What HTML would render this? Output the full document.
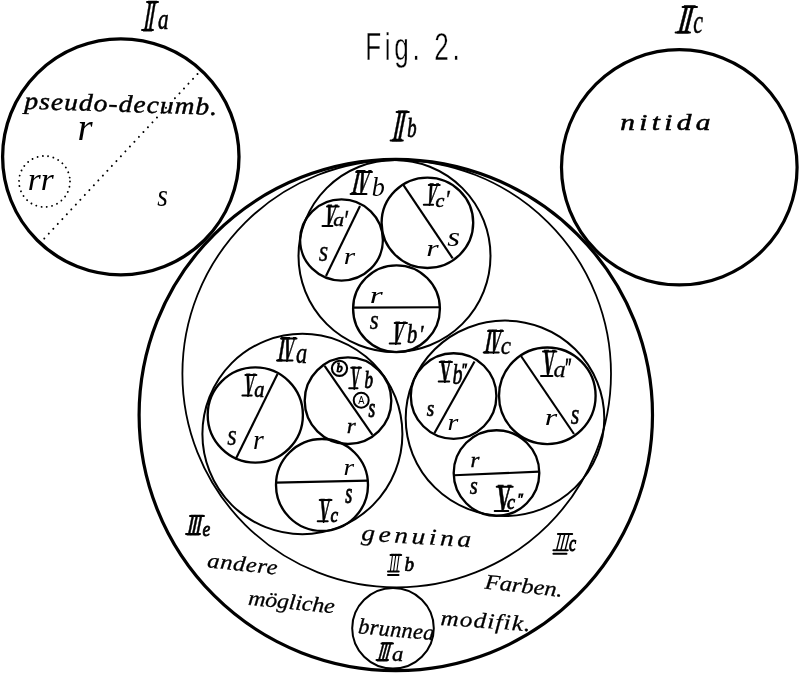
<!DOCTYPE html>
<html><head><meta charset="utf-8"><title>Fig. 2</title>
<style>
html,body{margin:0;padding:0;background:#fff;}
svg{display:block;}
text{fill:#000;}
.s{font-family:"Liberation Serif",serif;font-style:italic;}
.r{font-family:"Liberation Serif",serif;font-weight:bold;}
.rl{font-family:"Liberation Serif",serif;}
.ri{font-family:"Liberation Serif",serif;font-style:italic;}
.h{font-family:"Liberation Sans",sans-serif;}
</style></head><body>
<svg style="will-change:transform" width="800" height="673" viewBox="0 0 800 673">
<rect width="800" height="673" fill="#fff"/>
<g fill="none" stroke="#000">
<ellipse cx="120.8" cy="156.8" rx="118.2" ry="118" stroke-width="3.3"/>
<ellipse cx="679.3" cy="167.3" rx="117.8" ry="117.6" stroke-width="3.2"/>
<ellipse cx="396.7" cy="373.7" rx="214.3" ry="213.7" stroke-width="1.8"/>
<ellipse cx="393" cy="628.3" rx="40.8" ry="40.3" stroke-width="2.0"/>
<ellipse cx="394.5" cy="256" rx="96" ry="96" stroke-width="2.0"/>
<ellipse cx="302.4" cy="434" rx="100" ry="100.2" stroke-width="2.0"/>
<ellipse cx="505" cy="418.3" rx="99.3" ry="97.7" stroke-width="2.0"/>
<ellipse cx="341.5" cy="240" rx="41.4" ry="40.6" stroke-width="2.35"/>
<ellipse cx="396.5" cy="308.7" rx="43.4" ry="43.4" stroke-width="2.35"/>
<ellipse cx="427.4" cy="222.8" rx="45.8" ry="45.2" stroke-width="2.35"/>
<ellipse cx="255.3" cy="415" rx="47.6" ry="47.6" stroke-width="2.35"/>
<ellipse cx="348" cy="400.7" rx="43.3" ry="43.3" stroke-width="2.35"/>
<ellipse cx="322" cy="485" rx="46" ry="46" stroke-width="2.35"/>
<ellipse cx="453.6" cy="396" rx="42.8" ry="42.8" stroke-width="2.35"/>
<ellipse cx="547.3" cy="395.8" rx="48.3" ry="48.3" stroke-width="2.35"/>
<ellipse cx="496.5" cy="473" rx="42.8" ry="42.8" stroke-width="2.35"/>
<line x1="360" y1="206" x2="326" y2="276" stroke-width="2.15"/>
<line x1="353" y1="307.6" x2="440" y2="307.2" stroke-width="2.15"/>
<line x1="402.8" y1="184.2" x2="452.7" y2="258.4" stroke-width="2.15"/>
<line x1="277.5" y1="374" x2="235.5" y2="459.5" stroke-width="2.15"/>
<line x1="324.6" y1="365.8" x2="372.4" y2="434.8" stroke-width="2.15"/>
<line x1="276" y1="482.6" x2="368" y2="480.6" stroke-width="2.15"/>
<line x1="474.5" y1="361.5" x2="434.5" y2="433" stroke-width="2.15"/>
<line x1="521" y1="356" x2="574" y2="434" stroke-width="2.15"/>
<line x1="454" y1="475.3" x2="539.3" y2="471.6" stroke-width="2.15"/>
<circle cx="44.5" cy="181.5" r="25.5" stroke-width="1.9" stroke-dasharray="0.01 5.34" stroke-linecap="round"/>
<line x1="197.5" y1="74" x2="41" y2="242" stroke-width="2" stroke-dasharray="0.01 6.6" stroke-linecap="round"/>
<circle cx="339.5" cy="368.3" r="7.6" stroke-width="2.1"/>
<circle cx="361.2" cy="400.2" r="7.5" stroke-width="2.0"/>
<ellipse cx="395.8" cy="415" rx="256.7" ry="255.6" stroke-width="3.2"/>
<path d="M388 574.9H398.5M553.4 553.8H566.5" stroke-width="2" stroke-linecap="round"/>
</g>
<g>
<text class="h" font-size="100" stroke="#fff" stroke-width="0.35" vector-effect="non-scaling-stroke" letter-spacing="14" transform="matrix(0.2614,0,0,0.3872,365.21,60.47)">Fig. 2.</text>
<text class="s" font-size="100" transform="matrix(0.3889,0,0,0.3750,77.44,140.00)">r</text>
<text class="s" font-size="100" transform="matrix(0.3337,0,0,0.3229,27.67,189.50)">rr</text>
<text class="s" font-size="100" transform="matrix(0.2714,0,0,0.3229,157.23,205.68)">s</text>
<text class="s" font-size="100" stroke="#000" stroke-width="0.28" vector-effect="non-scaling-stroke" transform="matrix(0.2429,0,0,0.2917,318.76,260.71)">s</text>
<text class="s" font-size="100" transform="matrix(0.2917,0,0,0.2292,343.83,263.50)">r</text>
<text class="s" font-size="100" transform="matrix(0.3286,0,0,0.2812,447.17,245.72)">s</text>
<text class="s" font-size="100" transform="matrix(0.3194,0,0,0.2292,426.22,256.00)">r</text>
<text class="s" font-size="100" transform="matrix(0.3333,0,0,0.2396,369.67,302.50)">r</text>
<text class="s" font-size="100" stroke="#000" stroke-width="0.39" vector-effect="non-scaling-stroke" transform="matrix(0.2286,0,0,0.2708,369.77,328.73)">s</text>
<text class="s" font-size="100" stroke="#000" stroke-width="0.28" vector-effect="non-scaling-stroke" transform="matrix(0.2429,0,0,0.2917,227.26,444.71)">s</text>
<text class="s" font-size="100" transform="matrix(0.2778,0,0,0.2708,252.89,449.00)">r</text>
<text class="s" font-size="100" stroke="#000" stroke-width="0.81" vector-effect="non-scaling-stroke" transform="matrix(0.1714,0,0,0.2667,368.53,416.73)">s</text>
<text class="s" font-size="100" stroke="#000" stroke-width="0.37" vector-effect="non-scaling-stroke" transform="matrix(0.2306,0,0,0.2188,346.78,432.70)">r</text>
<text class="s" font-size="100" transform="matrix(0.2722,0,0,0.2354,343.61,475.00)">r</text>
<text class="s" font-size="100" stroke="#000" stroke-width="0.75" vector-effect="non-scaling-stroke" transform="matrix(0.1800,0,0,0.2979,345.32,503.20)">s</text>
<text class="s" font-size="100" stroke="#000" stroke-width="0.66" vector-effect="non-scaling-stroke" transform="matrix(0.1914,0,0,0.2292,426.81,415.77)">s</text>
<text class="s" font-size="100" transform="matrix(0.2778,0,0,0.2354,447.59,430.00)">r</text>
<text class="s" font-size="100" transform="matrix(0.3194,0,0,0.2354,544.72,425.00)">r</text>
<text class="s" font-size="100" stroke="#000" stroke-width="0.45" vector-effect="non-scaling-stroke" transform="matrix(0.2200,0,0,0.3021,570.78,424.20)">s</text>
<text class="s" font-size="100" stroke="#000" stroke-width="0.39" vector-effect="non-scaling-stroke" transform="matrix(0.2278,0,0,0.2188,470.59,467.00)">r</text>
<text class="s" font-size="100" stroke="#000" stroke-width="0.56" vector-effect="non-scaling-stroke" transform="matrix(0.2057,0,0,0.2500,469.79,494.45)">s</text>
<text class="s" font-size="100" stroke="#000" stroke-width="0.52" vector-effect="non-scaling-stroke" transform="matrix(0.2111,0,0,0.2917,158.08,28.71)">a</text>
<text class="s" font-size="100" stroke="#000" stroke-width="0.45" vector-effect="non-scaling-stroke" transform="matrix(0.2195,0,0,0.3333,693.34,32.67)">c</text>
<text class="s" font-size="100" stroke="#000" stroke-width="0.70" vector-effect="non-scaling-stroke" transform="matrix(0.1864,0,0,0.2814,407.24,137.42)">b</text>
<text class="s" font-size="100" transform="matrix(0.2614,0,0,0.2643,371.72,195.74)">b</text>
<text class="s" font-size="100" stroke="#000" stroke-width="0.47" vector-effect="non-scaling-stroke" transform="matrix(0.2178,0,0,0.1979,333.26,226.30)">a</text>
<text class="s" font-size="100" stroke="#000" stroke-width="0.60" vector-effect="non-scaling-stroke" transform="matrix(0.2000,0,0,0.2708,343.40,228.60)">′</text>
<text class="s" font-size="100" stroke="#000" stroke-width="0.60" vector-effect="non-scaling-stroke" transform="matrix(0.2000,0,0,0.1854,435.40,207.11)">c</text>
<text class="s" font-size="100" stroke="#000" stroke-width="0.37" vector-effect="non-scaling-stroke" transform="matrix(0.2308,0,0,0.2583,444.86,208.29)">′</text>
<text class="s" font-size="100" stroke="#000" stroke-width="0.57" vector-effect="non-scaling-stroke" transform="matrix(0.2045,0,0,0.2643,406.89,343.24)">b</text>
<text class="s" font-size="100" stroke="#000" stroke-width="0.54" vector-effect="non-scaling-stroke" transform="matrix(0.2077,0,0,0.2500,419.02,342.75)">′</text>
<text class="s" font-size="100" stroke="#000" stroke-width="0.42" vector-effect="non-scaling-stroke" transform="matrix(0.2244,0,0,0.2854,295.95,363.41)">a</text>
<text class="s" font-size="100" stroke="#000" stroke-width="0.57" vector-effect="non-scaling-stroke" transform="matrix(0.2044,0,0,0.2354,254.29,397.26)">a</text>
<text class="s" font-size="100" stroke="#000" stroke-width="0.82" vector-effect="non-scaling-stroke" transform="matrix(0.1705,0,0,0.2471,364.49,388.25)">b</text>
<text class="s" font-size="100" stroke="#000" stroke-width="1.00" vector-effect="non-scaling-stroke" transform="matrix(0.1227,0,0,0.1286,336.43,372.47)">b</text>
<text class="h" font-size="100" transform="matrix(0.0925,0,0,0.1014,358.20,403.80)">A</text>
<text class="s" font-size="100" stroke="#000" stroke-width="0.82" vector-effect="non-scaling-stroke" transform="matrix(0.1707,0,0,0.2104,330.49,521.59)">c</text>
<text class="s" font-size="100" stroke="#000" stroke-width="0.36" vector-effect="non-scaling-stroke" transform="matrix(0.2317,0,0,0.2563,500.80,354.04)">c</text>
<text class="s" font-size="100" stroke="#000" stroke-width="0.60" vector-effect="non-scaling-stroke" transform="matrix(0.2000,0,0,0.2857,452.60,384.21)">b</text>
<text class="s" font-size="100" stroke="#000" stroke-width="1.00" vector-effect="non-scaling-stroke" transform="matrix(0.1312,0,0,0.1750,461.36,375.17)">″</text>
<text class="s" font-size="100" stroke="#000" stroke-width="0.27" vector-effect="non-scaling-stroke" transform="matrix(0.2444,0,0,0.2375,553.51,376.76)">a</text>
<text class="s" font-size="100" stroke="#000" stroke-width="0.93" vector-effect="non-scaling-stroke" transform="matrix(0.1562,0,0,0.2625,564.28,375.76)">″</text>
<text class="s" font-size="100" stroke="#000" stroke-width="0.73" vector-effect="non-scaling-stroke" transform="matrix(0.1829,0,0,0.2042,506.95,508.80)">c</text>
<text class="s" font-size="100" stroke="#000" stroke-width="1.00" vector-effect="non-scaling-stroke" transform="matrix(0.1344,0,0,0.1542,517.22,504.32)">″</text>
<text class="s" font-size="100" stroke="#000" stroke-width="0.67" vector-effect="non-scaling-stroke" transform="matrix(0.1909,0,0,0.2057,404.43,571.19)">b</text>
<text class="s" font-size="100" stroke="#000" stroke-width="0.40" vector-effect="non-scaling-stroke" transform="matrix(0.2267,0,0,0.2188,392.05,661.28)">a</text>
<text class="s" font-size="100" stroke="#000" stroke-width="0.79" vector-effect="non-scaling-stroke" transform="matrix(0.1750,0,0,0.2083,202.47,535.79)">e</text>
<text class="s" font-size="100" stroke="#000" stroke-width="0.89" vector-effect="non-scaling-stroke" transform="matrix(0.1610,0,0,0.2354,568.92,550.76)">c</text>
<text class="r" font-size="100" letter-spacing="-6" stroke="#000" stroke-width="0.7" vector-effect="non-scaling-stroke" transform="matrix(0.1335,0,-0.0758,0.4545,142.78,30.55)">II</text>
<path d="M147.0 2.0H158.0M142.0 30.0H153.0" stroke="#000" stroke-width="2.0" stroke-linecap="round" fill="none"/>
<text class="r" font-size="100" letter-spacing="-6" stroke="#000" stroke-width="0.7" vector-effect="non-scaling-stroke" transform="matrix(0.1748,0,-0.1061,0.4182,676.62,33.18)">II</text>
<path d="M682.6 7.0H697.0M675.6 32.6H690.0" stroke="#000" stroke-width="2.0" stroke-linecap="round" fill="none"/>
<text class="r" font-size="100" letter-spacing="-6" stroke="#000" stroke-width="0.7" vector-effect="non-scaling-stroke" transform="matrix(0.1481,0,-0.0909,0.4606,391.47,140.94)">II</text>
<path d="M396.6 112.0H408.8M390.6 140.4H402.8" stroke="#000" stroke-width="2.0" stroke-linecap="round" fill="none"/>
<text class="r" font-size="100" letter-spacing="-6" stroke="#000" stroke-width="0.7" vector-effect="non-scaling-stroke" transform="matrix(0.1482,0,-0.0821,0.3582,350.72,194.28)">IV</text>
<path d="M356.1 172.0H372.0M350.6 194.0H366.5" stroke="#000" stroke-width="2.0" stroke-linecap="round" fill="none"/>
<text class="r" font-size="100" letter-spacing="0" stroke="#000" stroke-width="0.7" vector-effect="non-scaling-stroke" transform="matrix(0.1401,0,-0.0672,0.3209,323.37,226.36)">V</text>
<path d="M327.0 206.5H338.7M322.5 226.0H332.4" stroke="#000" stroke-width="2.0" stroke-linecap="round" fill="none"/>
<text class="r" font-size="100" letter-spacing="0" stroke="#000" stroke-width="0.7" vector-effect="non-scaling-stroke" transform="matrix(0.1305,0,-0.0746,0.3254,424.64,205.15)">V</text>
<path d="M428.8 185.0H439.7M423.8 204.8H433.1" stroke="#000" stroke-width="2.0" stroke-linecap="round" fill="none"/>
<text class="r" font-size="100" letter-spacing="0" stroke="#000" stroke-width="0.7" vector-effect="non-scaling-stroke" transform="matrix(0.1473,0,-0.0746,0.3358,390.62,343.83)">V</text>
<path d="M394.7 323.0H407.0M389.7 343.5H400.2" stroke="#000" stroke-width="2.0" stroke-linecap="round" fill="none"/>
<text class="r" font-size="100" letter-spacing="-6" stroke="#000" stroke-width="0.7" vector-effect="non-scaling-stroke" transform="matrix(0.1445,0,-0.0597,0.3582,277.07,360.78)">IV</text>
<path d="M281.0 338.5H296.5M277.0 360.5H292.5" stroke="#000" stroke-width="2.0" stroke-linecap="round" fill="none"/>
<text class="r" font-size="100" letter-spacing="0" stroke="#000" stroke-width="0.7" vector-effect="non-scaling-stroke" transform="matrix(0.1317,0,-0.0448,0.3358,243.18,395.83)">V</text>
<path d="M245.4 375.0H256.4M242.4 395.5H251.7" stroke="#000" stroke-width="2.0" stroke-linecap="round" fill="none"/>
<text class="r" font-size="100" letter-spacing="0" stroke="#000" stroke-width="0.7" vector-effect="non-scaling-stroke" transform="matrix(0.1173,0,-0.0299,0.3358,349.88,388.53)">V</text>
<path d="M351.2 367.7H361.0M349.2 388.2H357.5" stroke="#000" stroke-width="2.0" stroke-linecap="round" fill="none"/>
<text class="r" font-size="100" letter-spacing="0" stroke="#000" stroke-width="0.7" vector-effect="non-scaling-stroke" transform="matrix(0.1413,0,-0.0299,0.3463,318.50,521.51)">V</text>
<path d="M319.7 500.0H331.5M317.7 521.2H327.7" stroke="#000" stroke-width="2.0" stroke-linecap="round" fill="none"/>
<text class="r" font-size="100" letter-spacing="-6" stroke="#000" stroke-width="0.7" vector-effect="non-scaling-stroke" transform="matrix(0.1398,0,-0.0642,0.3507,483.78,352.80)">IV</text>
<path d="M488.0 331.0H503.0M483.7 352.5H498.7" stroke="#000" stroke-width="2.0" stroke-linecap="round" fill="none"/>
<text class="r" font-size="100" letter-spacing="0" stroke="#000" stroke-width="0.7" vector-effect="non-scaling-stroke" transform="matrix(0.1473,0,-0.0149,0.3209,439.51,381.86)">V</text>
<path d="M439.7 362.0H452.0M438.7 381.5H449.2" stroke="#000" stroke-width="2.0" stroke-linecap="round" fill="none"/>
<text class="r" font-size="100" letter-spacing="0" stroke="#000" stroke-width="0.7" vector-effect="non-scaling-stroke" transform="matrix(0.1604,0,-0.0299,0.3940,541.90,376.21)">V</text>
<path d="M543.0 351.6H556.4M541.0 376.0H552.4" stroke="#000" stroke-width="2.0" stroke-linecap="round" fill="none"/>
<text class="r" font-size="100" letter-spacing="0" stroke="#000" stroke-width="0.7" vector-effect="non-scaling-stroke" transform="matrix(0.1915,0,-0.0299,0.3925,495.77,511.21)">V</text>
<path d="M496.7 486.7H512.7M494.7 511.0H508.3" stroke="#000" stroke-width="2.0" stroke-linecap="round" fill="none"/>
<text class="rl" font-size="100" letter-spacing="-6" transform="matrix(0.1180,0,-0.0379,0.2788,388.22,572.12)">III</text>
<path d="M390.5 555.0H401.2M388.0 571.4H398.7" stroke="#000" stroke-width="2.0" stroke-linecap="round" fill="none"/>
<text class="r" font-size="100" letter-spacing="-6" stroke="#000" stroke-width="0.7" vector-effect="non-scaling-stroke" transform="matrix(0.1047,0,-0.0758,0.2803,376.84,660.72)">III</text>
<path d="M381.5 643.5H393.0M376.5 660.0H388.0" stroke="#000" stroke-width="2.0" stroke-linecap="round" fill="none"/>
<text class="r" font-size="100" letter-spacing="-6" stroke="#000" stroke-width="0.7" vector-effect="non-scaling-stroke" transform="matrix(0.1275,0,-0.0606,0.3030,186.38,534.70)">III</text>
<path d="M190.0 516.0H204.0M186.0 534.0H200.0" stroke="#000" stroke-width="2.0" stroke-linecap="round" fill="none"/>
<text class="rl" font-size="100" letter-spacing="-6" transform="matrix(0.1577,0,-0.0682,0.2758,553.71,550.92)">III</text>
<path d="M557.9 534.0H572.2M553.4 550.2H567.7" stroke="#000" stroke-width="2.0" stroke-linecap="round" fill="none"/>
<text class="s" font-size="24.35" letter-spacing="1.02" x="1.46" y="0" stroke="#000" stroke-width="0.5" vector-effect="non-scaling-stroke" transform="translate(22.5,108.8) rotate(1.8) scale(1.12,1)">pseudo-decumb.</text>
<text class="s" font-size="23.48" letter-spacing="3.47" x="-0.70" y="0" stroke="#000" stroke-width="0.6" vector-effect="non-scaling-stroke" transform="translate(621.2,130.3) scale(1.25,1)">nitida</text>
<text class="s" font-size="23.04" letter-spacing="3.14" x="0.00" y="0" stroke="#000" stroke-width="0.3" vector-effect="non-scaling-stroke" transform="translate(361,540.3) rotate(3.6) scale(1.18,1)">genuina</text>
<text class="s" font-size="22.17" letter-spacing="0.40" x="-0.67" y="0" stroke="#000" stroke-width="0.35" vector-effect="non-scaling-stroke" transform="translate(358.5,633.3) rotate(5.3) scale(1.0,1)">brunnea</text>
<text class="s" font-size="21.30" letter-spacing="0.56" x="-0.43" y="0" stroke="#000" stroke-width="0.3" vector-effect="non-scaling-stroke" transform="translate(207.3,567.2) rotate(6.2) scale(1.15,1)">andere</text>
<text class="s" font-size="21.30" letter-spacing="-0.09" x="-0.64" y="0" stroke="#000" stroke-width="0.3" vector-effect="non-scaling-stroke" transform="translate(248.4,604.7) rotate(5.8) scale(1.12,1)">mögliche</text>
<text class="s" font-size="21.30" letter-spacing="0.03" x="0.21" y="0" stroke="#000" stroke-width="0.3" vector-effect="non-scaling-stroke" transform="translate(484,588.4) rotate(6.3) scale(1.15,1)">Farben.</text>
<text class="s" font-size="21.74" letter-spacing="1.09" x="-0.65" y="0" stroke="#000" stroke-width="0.3" vector-effect="non-scaling-stroke" transform="translate(441,625) rotate(4) scale(1.15,1)">modifik.</text>
</g>
</svg></body></html>
